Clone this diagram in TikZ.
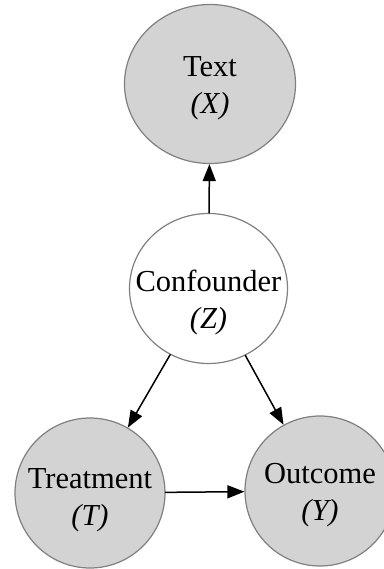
\documentclass[tikz,border=0pt]{standalone}
\usepackage{fontspec}
\setmainfont{Liberation Serif}
\usepackage{tikz}
\usetikzlibrary{arrows.meta}
\usetikzlibrary{shapes.geometric}
\definecolor{nodefill}{HTML}{D3D3D3}
\definecolor{nodeline}{HTML}{808080}

\begin{document}
\begin{tikzpicture}[x=1pt, y=1pt, line cap=round, line join=round,
    var/.style={ellipse, draw=nodeline, line width=1.2pt, inner sep=0pt},
    vartext/.style={align=center, font=\fontsize{30.5}{37}\selectfont, yshift=#1},
    vartext/.default=-5pt,
    observed/.style={var, fill=nodefill},
    hidden/.style={var, fill=white},
    edge/.style={-{Triangle[length=17pt, width=13pt]}, line width=1.5pt, black}]
  \useasboundingbox (0, 0) rectangle (383, -569);
  %--- Nodes
    \node[observed, minimum width=171, minimum height=159,
      label={[vartext=-4pt]center:Text\\\textit{(X)}}] (text) at (210, -84) {};
    \node[hidden, minimum width=158, minimum height=150,
      label={[vartext=-14pt]center:Confounder\\\textit{(Z)}}] (conf) at (208.5, -288.5) {};
    \node[observed, minimum width=150, minimum height=150,
      label={[vartext=-7pt]center:Treatment\\\textit{(T)}}] (treat) at (90, -493) {};
    \node[observed, minimum width=150, minimum height=150,
      label={[vartext=-4pt]center:Outcome\\\textit{(Y)}}] (outc) at (320, -491) {};
  %--- Edges
    \draw[edge] (conf) -- (text);
    \draw[edge] (conf) -- (treat);
    \draw[edge] (conf) -- (outc);
    \draw[edge] (treat) -- (outc);
\end{tikzpicture}
\end{document}
